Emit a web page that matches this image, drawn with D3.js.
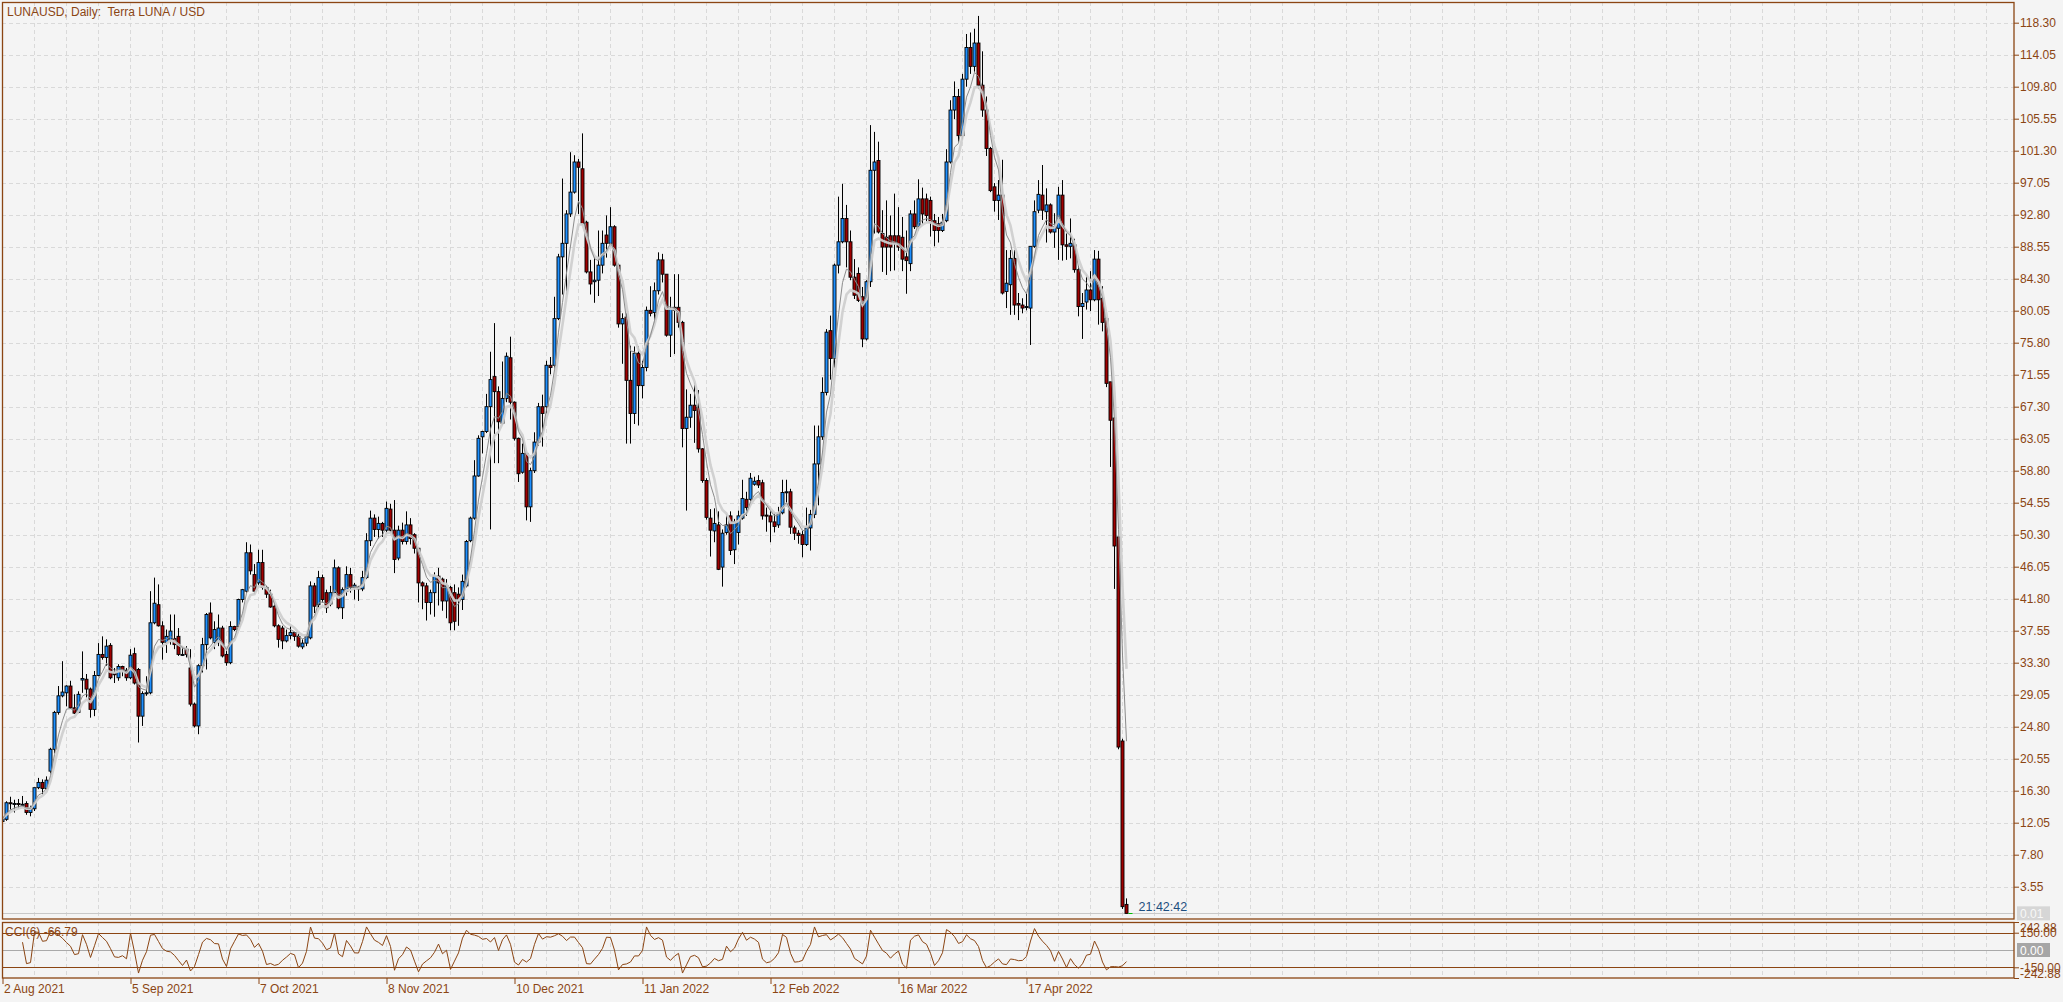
<!DOCTYPE html>
<html><head><meta charset="utf-8">
<script src="https://cdn.jsdelivr.net/npm/d3@7"></script>
<style>
html,body{margin:0;padding:0;background:#f4f4f4;overflow:hidden;}
svg{display:block;}
text{font-family:"Liberation Sans",Arial,sans-serif;}
</style></head><body>
<svg id="c" width="2063" height="1002"></svg>
<script>
// ---- Data (daily LUNAUSD bars, index 0 = 2 Aug 2021) ----
const opens = [12.2,12.5,14.7,14.6,14.6,14.5,14.6,13.4,13.9,16.7,17.4,16.6,18.9,21.8,26.7,28.9,29.3,30.2,27.3,26.7,
31.0,31.1,29.8,27.1,31.6,34.4,34.0,35.6,31.9,31.3,32.8,32.3,31.3,34.5,32.4,26.2,29.2,29.3,38.6,41.0,
38.2,36.0,36.4,36.5,36.8,34.4,35.1,32.6,27.8,24.9,32.9,35.7,39.9,36.0,36.0,37.9,34.4,33.3,38.1,38.1,
41.7,42.8,47.9,45.0,43.9,46.6,43.3,42.4,40.8,38.2,37.9,36.2,36.9,37.3,36.8,35.4,35.9,36.6,43.5,41.0,
44.6,42.6,41.1,42.6,45.9,40.6,42.8,45.0,43.3,43.1,43.1,44.6,49.5,52.5,51.0,51.8,50.9,53.7,50.9,47.2,
50.9,49.4,51.6,50.3,48.5,43.9,43.5,41.3,42.6,44.8,44.4,41.5,43.3,42.6,42.4,41.7,43.5,49.5,52.5,58.1,
63.3,64.0,67.3,71.3,69.3,65.1,68.4,73.8,67.9,63.1,58.6,61.1,54.0,58.8,62.6,67.3,67.3,72.8,72.8,79.0,
87.2,89.0,92.9,95.8,99.8,98.9,91.8,85.2,83.9,84.1,86.1,90.1,89.0,91.2,86.1,78.3,79.2,70.8,66.4,74.4,
70.1,72.5,80.1,79.8,82.7,86.8,84.9,76.8,80.5,80.5,78.5,64.4,65.9,67.5,67.2,61.7,57.5,52.5,50.8,51.6,
46.0,50.6,52.8,48.3,50.6,52.5,55.0,55.0,57.0,57.5,57.2,52.9,52.8,52.0,51.6,53.2,55.9,56.0,51.2,50.5,
50.3,49.0,51.2,53.0,59.7,63.3,69.2,77.4,73.7,86.1,89.2,92.3,89.2,84.5,85.0,81.9,76.3,83.9,98.7,100.0,
90.3,89.8,90.0,90.0,90.0,89.8,87.2,86.3,92.9,91.2,94.9,94.9,94.7,92.0,91.6,90.7,92.0,99.8,106.7,108.5,
103.3,110.8,115.0,112.5,115.6,110.0,106.7,101.6,96.5,94.7,95.4,82.6,83.5,87.0,81.0,80.8,80.5,80.4,88.6,93.4,
95.4,93.2,94.1,90.5,91.0,95.4,88.8,88.6,88.8,85.5,80.6,81.2,82.8,81.5,86.9,81.7,79.0,70.6,65.8,50.0,
22.9,1.2];
const highs = [12.7,14.9,15.5,15.1,15.2,15.6,14.9,14.3,16.7,18.0,17.8,18.2,22.0,26.9,30.2,33.5,30.3,30.9,29.1,29.5,
34.8,31.8,30.0,32.2,35.9,36.8,36.4,35.9,32.6,33.1,32.9,32.6,35.1,35.3,32.6,29.5,31.5,42.8,44.6,43.7,
38.8,37.7,39.7,39.7,37.9,35.5,35.5,35.1,28.0,33.1,36.6,39.9,41.3,38.8,39.7,38.2,35.1,38.8,38.2,41.8,
43.1,49.3,49.0,46.4,48.3,48.3,43.5,43.0,41.0,38.4,38.2,37.7,38.2,37.4,37.3,36.4,37.1,44.1,43.9,45.5,
45.0,43.0,43.5,47.0,46.1,43.3,46.1,45.9,43.9,43.5,45.5,50.5,53.5,53.0,52.7,52.0,54.7,54.4,54.9,51.5,
51.9,53.4,52.5,50.5,48.6,44.1,43.9,43.0,45.3,45.9,44.6,44.4,43.5,43.7,43.3,45.0,49.6,52.7,60.2,63.5,
64.1,69.0,74.6,78.4,70.0,73.3,74.5,76.6,68.0,63.2,62.4,61.2,59.2,63.9,67.8,68.9,73.4,73.9,81.9,87.6,
97.6,93.4,101.1,100.7,100.2,103.6,92.0,86.8,87.1,90.7,90.7,92.7,93.8,91.4,86.3,79.7,79.7,75.4,75.3,75.3,
73.4,80.6,83.3,83.8,87.8,87.6,84.9,81.9,84.9,84.9,78.7,69.6,69.0,70.5,69.5,61.8,57.8,53.7,53.8,53.4,
51.0,53.0,53.4,52.4,53.5,57.6,56.0,58.5,58.0,58.2,57.6,53.9,53.4,53.2,54.0,57.6,57.6,56.4,51.5,50.9,
50.8,53.9,53.6,64.8,64.8,71.2,77.6,79.4,86.3,95.2,96.9,94.1,90.7,86.9,85.8,83.2,84.1,104.7,103.8,102.5,
93.4,94.7,92.7,95.6,93.8,92.5,90.7,93.4,94.7,97.5,96.4,95.6,95.2,92.9,92.5,92.9,101.5,108.0,110.5,109.5,
111.5,116.8,117.0,117.5,119.2,114.5,108.5,101.8,97.0,97.4,100.1,88.1,88.1,88.1,82.4,81.7,82.4,88.6,94.7,97.4,
99.4,96.3,94.3,93.0,96.5,97.4,90.3,92.3,89.6,86.0,82.4,84.8,85.3,88.1,88.0,83.3,79.2,70.6,65.9,50.0,
23.2,2.0];
const lows = [11.7,12.3,13.8,13.4,13.9,14.1,13.1,12.9,13.6,16.5,15.8,16.5,18.6,21.3,26.4,28.7,27.5,27.2,26.5,26.6,
29.3,28.7,26.0,26.2,31.5,33.7,32.9,31.1,30.6,30.9,31.5,30.9,31.1,30.4,22.7,24.9,28.9,29.1,38.4,38.1,
33.7,34.6,35.7,35.1,34.2,34.2,34.0,27.5,24.7,23.8,32.0,32.4,36.4,35.1,35.5,34.0,32.9,33.1,37.5,38.0,
41.3,42.6,45.0,42.4,43.5,43.0,41.9,40.6,38.0,35.3,35.1,36.0,36.4,36.2,35.3,35.1,35.5,36.4,39.9,40.6,
41.3,39.9,40.8,42.4,40.4,39.1,42.2,42.6,41.7,41.5,42.8,44.4,48.8,50.0,49.8,50.0,50.4,50.5,45.2,46.9,
49.0,49.0,49.0,47.8,41.3,40.4,38.9,39.7,39.4,40.9,40.2,39.2,37.6,37.6,38.2,40.3,43.3,49.3,52.3,58.0,
61.1,63.8,51.0,59.8,59.8,64.9,67.9,65.6,62.8,57.3,58.4,52.2,52.0,58.5,62.1,62.0,66.4,71.6,72.5,78.8,
82.2,82.2,92.5,95.6,92.9,91.4,85.0,82.2,81.1,82.0,85.0,87.1,88.5,85.9,77.8,73.0,62.4,62.4,65.0,64.8,
68.4,72.0,79.3,78.4,82.2,83.8,76.6,73.9,74.3,77.8,61.9,53.5,64.5,62.5,61.2,57.2,52.3,47.4,49.3,45.6,
43.4,50.3,47.6,46.4,49.0,52.3,52.8,54.8,56.8,56.5,52.3,50.7,49.3,50.6,51.2,53.0,54.3,50.4,49.6,49.1,
47.3,48.8,48.2,52.5,54.2,62.9,68.8,70.9,72.5,85.0,89.0,85.8,84.1,81.6,81.2,75.2,76.1,83.2,90.3,90.3,
85.2,84.8,85.3,85.4,88.0,85.3,82.3,85.3,90.9,90.7,91.6,91.9,89.9,88.6,89.1,90.5,91.8,99.6,105.5,102.5,
102.8,109.8,111.5,111.8,109.5,105.8,100.6,95.8,93.2,92.1,82.2,80.4,79.5,79.5,78.8,79.7,80.1,75.5,88.4,93.0,
92.1,89.1,90.3,88.4,86.8,86.7,86.8,87.0,85.1,79.3,76.3,80.2,80.0,81.3,78.2,77.3,69.9,59.3,43.1,21.8,
0.6,0.01];
const closes = [12.6,14.7,14.6,14.6,14.5,14.5,13.4,13.9,16.7,17.4,16.6,17.7,21.8,26.7,28.9,29.4,30.2,27.3,26.6,29.1,
31.2,29.8,27.1,31.6,34.4,34.0,35.5,31.3,31.7,32.8,32.3,31.3,34.3,30.6,26.2,29.2,29.3,38.6,41.2,38.2,
36.0,36.8,37.5,35.7,34.4,34.4,34.4,27.8,24.9,32.9,35.7,39.7,36.6,37.7,37.9,34.2,33.3,38.1,37.7,41.7,
43.0,47.9,45.5,42.8,46.6,43.3,42.4,40.7,38.2,36.4,36.2,36.9,37.3,36.8,35.5,35.9,36.8,43.5,40.8,44.6,
41.7,40.6,42.6,45.9,40.6,43.0,45.0,43.3,43.6,43.3,44.6,49.5,52.5,51.0,51.8,50.9,53.8,50.9,47.0,50.9,
49.4,51.6,49.8,48.5,43.9,43.5,41.3,42.6,44.8,43.9,41.5,43.5,38.6,38.8,41.7,44.1,49.4,52.5,58.1,63.1,
64.0,67.3,70.9,69.3,65.3,68.4,74.0,67.9,63.1,58.4,61.1,54.0,58.8,62.6,67.3,66.4,72.8,72.5,79.0,87.2,
89.0,92.9,95.8,99.8,99.1,91.6,85.2,83.6,84.1,86.1,89.0,89.0,91.2,86.1,78.3,79.0,70.8,66.4,74.4,70.1,
72.5,80.1,79.7,82.7,86.8,84.9,76.8,80.3,80.1,78.5,64.4,65.9,67.5,66.8,61.7,57.5,52.6,50.9,51.8,45.7,
50.5,51.6,48.2,52.0,52.8,55.1,53.9,57.8,57.4,56.9,52.8,52.8,52.0,51.4,53.1,55.9,56.0,51.3,50.5,50.2,
49.0,51.2,53.0,59.7,63.3,69.2,77.2,73.7,86.1,89.2,92.3,89.2,84.5,82.1,81.4,76.3,83.9,98.7,99.8,90.5,
88.5,88.5,88.5,89.0,88.5,86.9,86.7,92.9,91.2,94.9,92.9,92.7,91.8,90.7,90.7,91.8,99.8,106.7,108.5,103.3,
110.8,115.0,112.5,115.6,110.0,106.7,101.6,96.0,94.7,95.4,82.4,83.7,87.0,80.8,80.8,80.4,80.6,88.6,93.2,95.5,
93.4,94.1,90.5,91.2,95.4,88.8,88.6,89.0,85.5,80.6,81.0,82.8,81.5,86.9,81.5,78.5,70.4,65.5,48.8,22.1,
0.9,0.01];

const xTickBars   = [0, 32, 64, 96, 128, 160, 192, 224, 256];
const xTickLabels = ["2 Aug 2021","5 Sep 2021","7 Oct 2021","8 Nov 2021","10 Dec 2021","11 Jan 2022","12 Feb 2022","16 Mar 2022","17 Apr 2022"];
const priceTicks  = [118.30,114.05,109.80,105.55,101.30,97.05,92.80,88.55,84.30,80.05,75.80,71.55,67.30,63.05,58.80,54.55,50.30,46.05,41.80,37.55,33.30,29.05,24.80,20.55,16.30,12.05,7.80,3.55];
const priceTickLabels = ["118.30","114.05","109.80","105.55","101.30","97.05","92.80","88.55","84.30","80.05","75.80","71.55","67.30","63.05","58.80","54.55","50.30","46.05","41.80","37.55","33.30","29.05","24.80","20.55","16.30","12.05","7.80","3.55"];
const cciTicks = [242.88, 150, -150, -242.88];
const cciTickLabels = ["242.88","150.00","-150.00","-242.88"];
const cciLevels = [150, -150];
const title = "LUNAUSD, Daily:  Terra LUNA / USD";
const cciTitle = "CCI(6) -66.79";
const lastPriceLabel = "0.01";
const lastPrice = 0.01;
const timerLabel = "21:42:42";
const maFastPeriod = 5, maSlowPeriod = 7, cciPeriod = 6;

// ---- Layout ----
const BROWN = "#8b4513";
const L = 2, R = 2014, mainT = 2, mainB = 919, cciT = 922, cciB = 978;
const svg = d3.select("#c");
const x  = d3.scaleLinear().domain([0, 100]).range([2.5, 402.5]);
const y  = d3.scaleLinear().domain([3.55, 118.30]).range([886.7, 22.7]);
const yc = d3.scaleLinear().domain([-242.88, 242.88]).range([cciB, cciT]);

svg.append("rect").attr("width", 2063).attr("height", 1002).attr("fill", "#f4f4f4");

const defs = svg.append("defs");
defs.append("clipPath").attr("id","clipMain").append("rect")
  .attr("x", L).attr("y", mainT).attr("width", R-L).attr("height", mainB-mainT);
defs.append("clipPath").attr("id","clipCci").append("rect")
  .attr("x", L).attr("y", cciT).attr("width", R-L).attr("height", cciB-cciT);

// ---- Grid ----
const gridBars = d3.range(0, 497, 8);
const grid = svg.append("g").attr("stroke", "#d9d9d9").attr("stroke-dasharray", "4,3").attr("stroke-width", 1);
grid.selectAll("line.v").data(gridBars).join("line").attr("class","v")
  .attr("x1", d => x(d)).attr("x2", d => x(d)).attr("y1", mainT).attr("y2", mainB);
grid.selectAll("line.vc").data(gridBars).join("line").attr("class","vc")
  .attr("x1", d => x(d)).attr("x2", d => x(d)).attr("y1", cciT).attr("y2", cciB);
grid.selectAll("line.h").data(priceTicks).join("line").attr("class","h")
  .attr("x1", L).attr("x2", R).attr("y1", d => Math.round(y(d))+0.5).attr("y2", d => Math.round(y(d))+0.5);

// last price line
svg.append("line").attr("x1", L).attr("x2", R)
  .attr("y1", Math.round(y(lastPrice))+0.5).attr("y2", Math.round(y(lastPrice))+0.5)
  .attr("stroke", "#c8c8c8").attr("stroke-width", 1);

// ---- Candles ----
const idx = d3.range(closes.length);
const main = svg.append("g").attr("clip-path", "url(#clipMain)");
main.append("g").attr("stroke", "#000").attr("stroke-width", 1)
  .selectAll("line").data(idx).join("line")
  .attr("x1", i => x(i)).attr("x2", i => x(i))
  .attr("y1", i => y(highs[i])).attr("y2", i => y(lows[i]));
main.append("g").selectAll("rect").data(idx).join("rect")
  .attr("x", i => x(i) - 1.5).attr("width", 3)
  .attr("y", i => y(Math.max(opens[i], closes[i])))
  .attr("height", i => Math.max(1, y(Math.min(opens[i], closes[i])) - y(Math.max(opens[i], closes[i]))))
  .attr("fill", i => closes[i] >= opens[i] ? "#1e90ff" : "#a00000")
  .attr("stroke", "#000").attr("stroke-width", 0.9);

// ---- Moving averages (exponential, of the close) ----
function ema(vals, n) {
  const a = 2 / (n + 1), out = [];
  vals.forEach((v, i) => out.push(i === 0 ? v : out[i-1] + a * (v - out[i-1])));
  return out;
}
const maFast = ema(closes, maFastPeriod), maSlow = ema(closes, maSlowPeriod);
const line = d3.line().x((d, i) => x(i)).y(d => y(d));
main.append("path").datum(maSlow).attr("d", line).attr("fill", "none")
  .attr("stroke", "#cfcfcf").attr("stroke-width", 2.6).attr("stroke-opacity", 0.95);
main.append("path").datum(maFast).attr("d", line).attr("fill", "none")
  .attr("stroke", "#8c8c8c").attr("stroke-width", 1);

// ---- CCI ----
const tp = idx.map(i => (highs[i] + lows[i] + closes[i]) / 3);
const cci = idx.map(i => {
  if (i < cciPeriod - 1) return null;
  const w = tp.slice(i - cciPeriod + 1, i + 1);
  const m = d3.mean(w);
  const md = d3.mean(w, v => Math.abs(v - m));
  return md === 0 ? 0 : (tp[i] - m) / (0.015 * md);
});
const cciG = svg.append("g").attr("clip-path", "url(#clipCci)");
cciG.append("line").attr("x1", L).attr("x2", R).attr("y1", Math.round(yc(0))+0.5).attr("y2", Math.round(yc(0))+0.5)
  .attr("stroke", "#a9a9a9");
cciG.selectAll("line.lvl").data(cciLevels).join("line").attr("class","lvl")
  .attr("x1", L).attr("x2", R).attr("y1", d => Math.round(yc(d))+0.5).attr("y2", d => Math.round(yc(d))+0.5)
  .attr("stroke", BROWN).attr("stroke-width", 1);
cciG.append("path").datum(cci)
  .attr("d", d3.line().defined(d => d !== null).x((d, i) => x(i)).y(d => yc(d)))
  .attr("fill", "none").attr("stroke", BROWN).attr("stroke-width", 1);

// ---- Frames ----
svg.append("rect").attr("x", L+0.5).attr("y", mainT+0.5).attr("width", R-L-0.5).attr("height", mainB-mainT-0.5)
  .attr("fill", "none").attr("stroke", BROWN).attr("stroke-width", 1.3);
svg.append("rect").attr("x", L+0.5).attr("y", cciT+0.5).attr("width", R-L-0.5).attr("height", cciB-cciT-0.5)
  .attr("fill", "none").attr("stroke", BROWN).attr("stroke-width", 1.3);

// ---- Axes ----
function styleAxis(g) {
  g.select(".domain").remove();
  g.selectAll(".tick line").attr("stroke", BROWN);
  g.selectAll(".tick text").attr("fill", BROWN).style("font-size", "12px")
    .style("font-family", '"Liberation Sans", Arial, sans-serif');
}
const pAxis = svg.append("g").attr("transform", `translate(${R},0)`)
  .call(d3.axisRight(y).tickValues(priceTicks).tickSize(5).tickPadding(1)
        .tickFormat((d, i) => priceTickLabels[i]));
styleAxis(pAxis);

const cAxis = svg.append("g").attr("transform", `translate(${R},0)`)
  .call(d3.axisRight(yc).tickValues(cciTicks).tickSize(5).tickPadding(1)
        .tickFormat((d, i) => cciTickLabels[i]));
styleAxis(cAxis);
cAxis.selectAll(".tick text").attr("dy", (d) => d === 242.88 ? "0.78em" : (d === -242.88 ? "-0.05em" : "0.32em"));

const xAxis = svg.append("g").attr("transform", `translate(0,${cciB})`)
  .call(d3.axisBottom(x).tickValues(xTickBars).tickSize(6).tickPadding(0)
        .tickFormat((d, i) => xTickLabels[i]));
styleAxis(xAxis);
xAxis.selectAll(".tick text").attr("text-anchor", "start").attr("x", 1);

// last price box
const lpY = y(lastPrice);
svg.append("rect").attr("x", R+3).attr("y", lpY-7).attr("width", 33).attr("height", 14).attr("fill", "#d6d6d6");
svg.append("text").attr("x", R+6).attr("y", lpY+4.5).attr("fill", "#f8f8f8").style("font-size", "12px").text(lastPriceLabel);
// cci zero box
const zY = yc(0);
svg.append("rect").attr("x", R+3).attr("y", zY-7).attr("width", 33).attr("height", 14).attr("fill", "#a6a6a6");
svg.append("text").attr("x", R+6).attr("y", zY+4.5).attr("fill", "#ffffff").style("font-size", "12px").text("0.00");

// ---- Labels ----
svg.append("text").attr("x", 7).attr("y", 16).attr("fill", BROWN).style("font-size", "12px")
  .style("white-space", "pre").text(title);
svg.append("text").attr("x", 5).attr("y", 936).attr("fill", BROWN).style("font-size", "12px").text(cciTitle);

const lastI = closes.length - 1;
svg.append("text").attr("x", x(lastI) + 12).attr("y", 911).attr("fill", "#1d4e7e")
  .style("font-size", "12.5px").text(timerLabel);
svg.append("line").attr("x1", x(lastI) + 2).attr("x2", x(lastI) + 6)
  .attr("y1", Math.round(lpY)+0.5).attr("y2", Math.round(lpY)+0.5).attr("stroke", "#00c000");
</script>
</body></html>
